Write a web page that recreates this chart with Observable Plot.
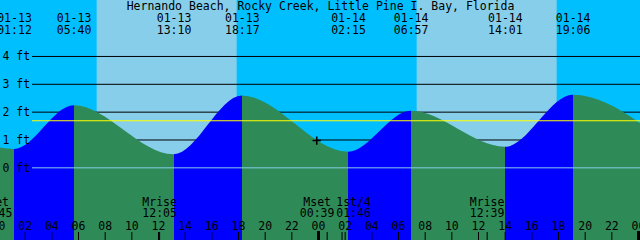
<!DOCTYPE html>
<html><head><meta charset="utf-8">
<script src="https://cdn.jsdelivr.net/npm/d3@7"></script>
<script src="https://cdn.jsdelivr.net/npm/@observablehq/plot@0.6"></script>
<style>html,body{margin:0;padding:0;background:#00BFFF;overflow:hidden}#chart svg{display:block}</style>
</head><body><div id="chart"></div>
<script>
// ---- data ----
const title = "Hernando Beach, Rocky Creek, Little Pine I. Bay, Florida";
// tide extremes (first and last are just off-chart estimates)
const tideTimes = ["01-12 17:30","01-13 01:12","01-13 05:40","01-13 13:10","01-13 18:17","01-14 02:15","01-14 06:57","01-14 14:01","01-14 19:06","01-15 02:45"];
const tideLevels = [2.5, 0.66, 2.23, 0.47, 2.58, 0.56, 2.03, 0.74, 2.61, 0.6];
const sunrise = ["01-13 07:24","01-14 07:24"];
const sunset  = ["01-13 17:54","01-14 17:54"];
const moonTimes = ["01-12 23:45","01-13 12:05","01-14 00:39","01-14 01:46","01-14 12:39"];
const moonNames = ["Mset","Mrise","Mset","1st/4","Mrise"];
const footLabels = [0,1,2,3,4];
const gridFeet = [1,2,3,4];
const datumFeet = [0];
const meanFeet = [1.69];
const nowTime = "01-13 23:52";
const nowLevel = 0.98;
const hourTicks = [0,2,4,6,8,10,12,14,16,18,20,22,24,26,28,30,32,34,36,38,40,42,44,46,48];
const hourLabels = ["00","02","04","06","08","10","12","14","16","18","20","22","00","02","04","06","08","10","12","14","16","18","20","22","00"];
const midnightTicks = [0,24,48];

// ---- colours ----
const NIGHT = "#00BFFF", DAY = "#87CEEB", RISE = "#0000FF", FALL = "#2E8B57";
const FONT = "DejaVu Sans Mono";

const hours = s => { const [md, hm] = s.split(" "); const d = +md.split("-")[1]; const [h, m] = hm.split(":").map(Number); return (d - 13) * 24 + h + m / 60; };

const W = 640, H = 240;
const xDomain = [0.15, 48.15];
const yDomain = [-2.61, 6.01];

const tides = tideTimes.map((s, i) => ({t: hours(s), v: tideLevels[i], date: s.split(" ")[0], time: s.split(" ")[1]}));
const days = sunrise.map((s, i) => ({a: hours(s), b: hours(sunset[i])}));
const moon = moonTimes.map((s, i) => ({t: hours(s), name: moonNames[i], time: s.split(" ")[1]}));
const hourData = hourTicks.map((h, i) => ({h, label: hourLabels[i]}));

const moonPlain = moon.filter((d, i) => i !== 2 && i !== 3);
const moonLeft = moon.filter((d, i) => i === 2);
const moonRight = moon.filter((d, i) => i === 3);

const txt = {fontFamily: FONT, fontSize: 11.5, fill: "black", lineAnchor: "middle"};

const chart = Plot.plot({
  width: W, height: H, margin: 0,
  x: {domain: xDomain, axis: null},
  y: {domain: yDomain, axis: null},
  style: {background: NIGHT, overflow: "hidden"},
  marks: [
    Plot.rect(days, {x1: "a", x2: "b", fill: DAY}),
    Plot.ruleY(gridFeet, {stroke: "black", insetLeft: 32}),
    Plot.areaY(tides, {x: "t", y1: yDomain[0], y2: "v", curve: "monotone-x", fill: "url(#tideFill)"}),
    Plot.ruleY(datumFeet, {stroke: "#87CEEB", insetLeft: 32}),
    Plot.ruleY(meanFeet, {stroke: "#FFFF00", strokeWidth: 1.1, insetLeft: 32}),
    Plot.text(footLabels, {y: d => d, text: d => `${d} ft`, frameAnchor: "left", textAnchor: "start", dx: 2, ...txt}),
    Plot.dot([{t: hours(nowTime), v: nowLevel}], {x: "t", y: "v", symbol: "plus", r: 2.8, stroke: "black", strokeWidth: 1.6}),
    // top labels
    Plot.text([title], {text: d => d, frameAnchor: "top", dy: 6, ...txt}),
    Plot.text(tides, {x: "t", text: "date", frameAnchor: "top", dy: 17.5, ...txt}),
    Plot.text(tides, {x: "t", text: "time", frameAnchor: "top", dy: 29.5, ...txt}),
    // bottom: moon events
    Plot.text(moonPlain, {x: "t", text: "name", frameAnchor: "bottom", dy: -38.5, ...txt}),
    Plot.text(moonPlain, {x: "t", text: "time", frameAnchor: "bottom", dy: -27, ...txt}),
    Plot.text(moonLeft, {x: "t", text: "name", frameAnchor: "bottom", dy: -38.5, dx: -10, ...txt}),
    Plot.text(moonLeft, {x: "t", text: "time", frameAnchor: "bottom", dy: -27, dx: -10, ...txt}),
    Plot.text(moonRight, {x: "t", text: "name", frameAnchor: "bottom", dy: -38.5, dx: 11.5, ...txt}),
    Plot.text(moonRight, {x: "t", text: "time", frameAnchor: "bottom", dy: -27, dx: 11.5, ...txt}),
    // hour axis
    Plot.text(hourData, {x: "h", text: "label", frameAnchor: "bottom", dy: -14.5, ...txt}),
    Plot.ruleX(hourTicks, {stroke: "black", insetTop: 232}),
    Plot.ruleX(moon, {x: "t", stroke: "black", insetTop: 232}),
    Plot.ruleX(midnightTicks, {stroke: "black", strokeWidth: 3, insetTop: 231})
  ]
});

// gradient that colours rising (blue) and falling (green) parts of the tide fill
const xs = chart.scale("x");
const xScale = Plot.scale({x: {domain: xs.domain, range: xs.range}});
const svg = d3.select(chart);
const grad = svg.insert("defs", ":first-child").append("linearGradient")
  .attr("id", "tideFill").attr("gradientUnits", "userSpaceOnUse")
  .attr("x1", 0).attr("x2", W).attr("y1", 0).attr("y2", 0);
const clamp = v => Math.max(0, Math.min(1, v));
for (let i = 0; i < tides.length - 1; i++) {
  const c = tides[i + 1].v > tides[i].v ? RISE : FALL;
  const o1 = clamp(xScale.apply(tides[i].t) / W), o2 = clamp(xScale.apply(tides[i + 1].t) / W);
  grad.append("stop").attr("offset", o1).attr("stop-color", c);
  grad.append("stop").attr("offset", o2).attr("stop-color", c);
}
document.getElementById("chart").append(chart);
</script>
</body></html>
